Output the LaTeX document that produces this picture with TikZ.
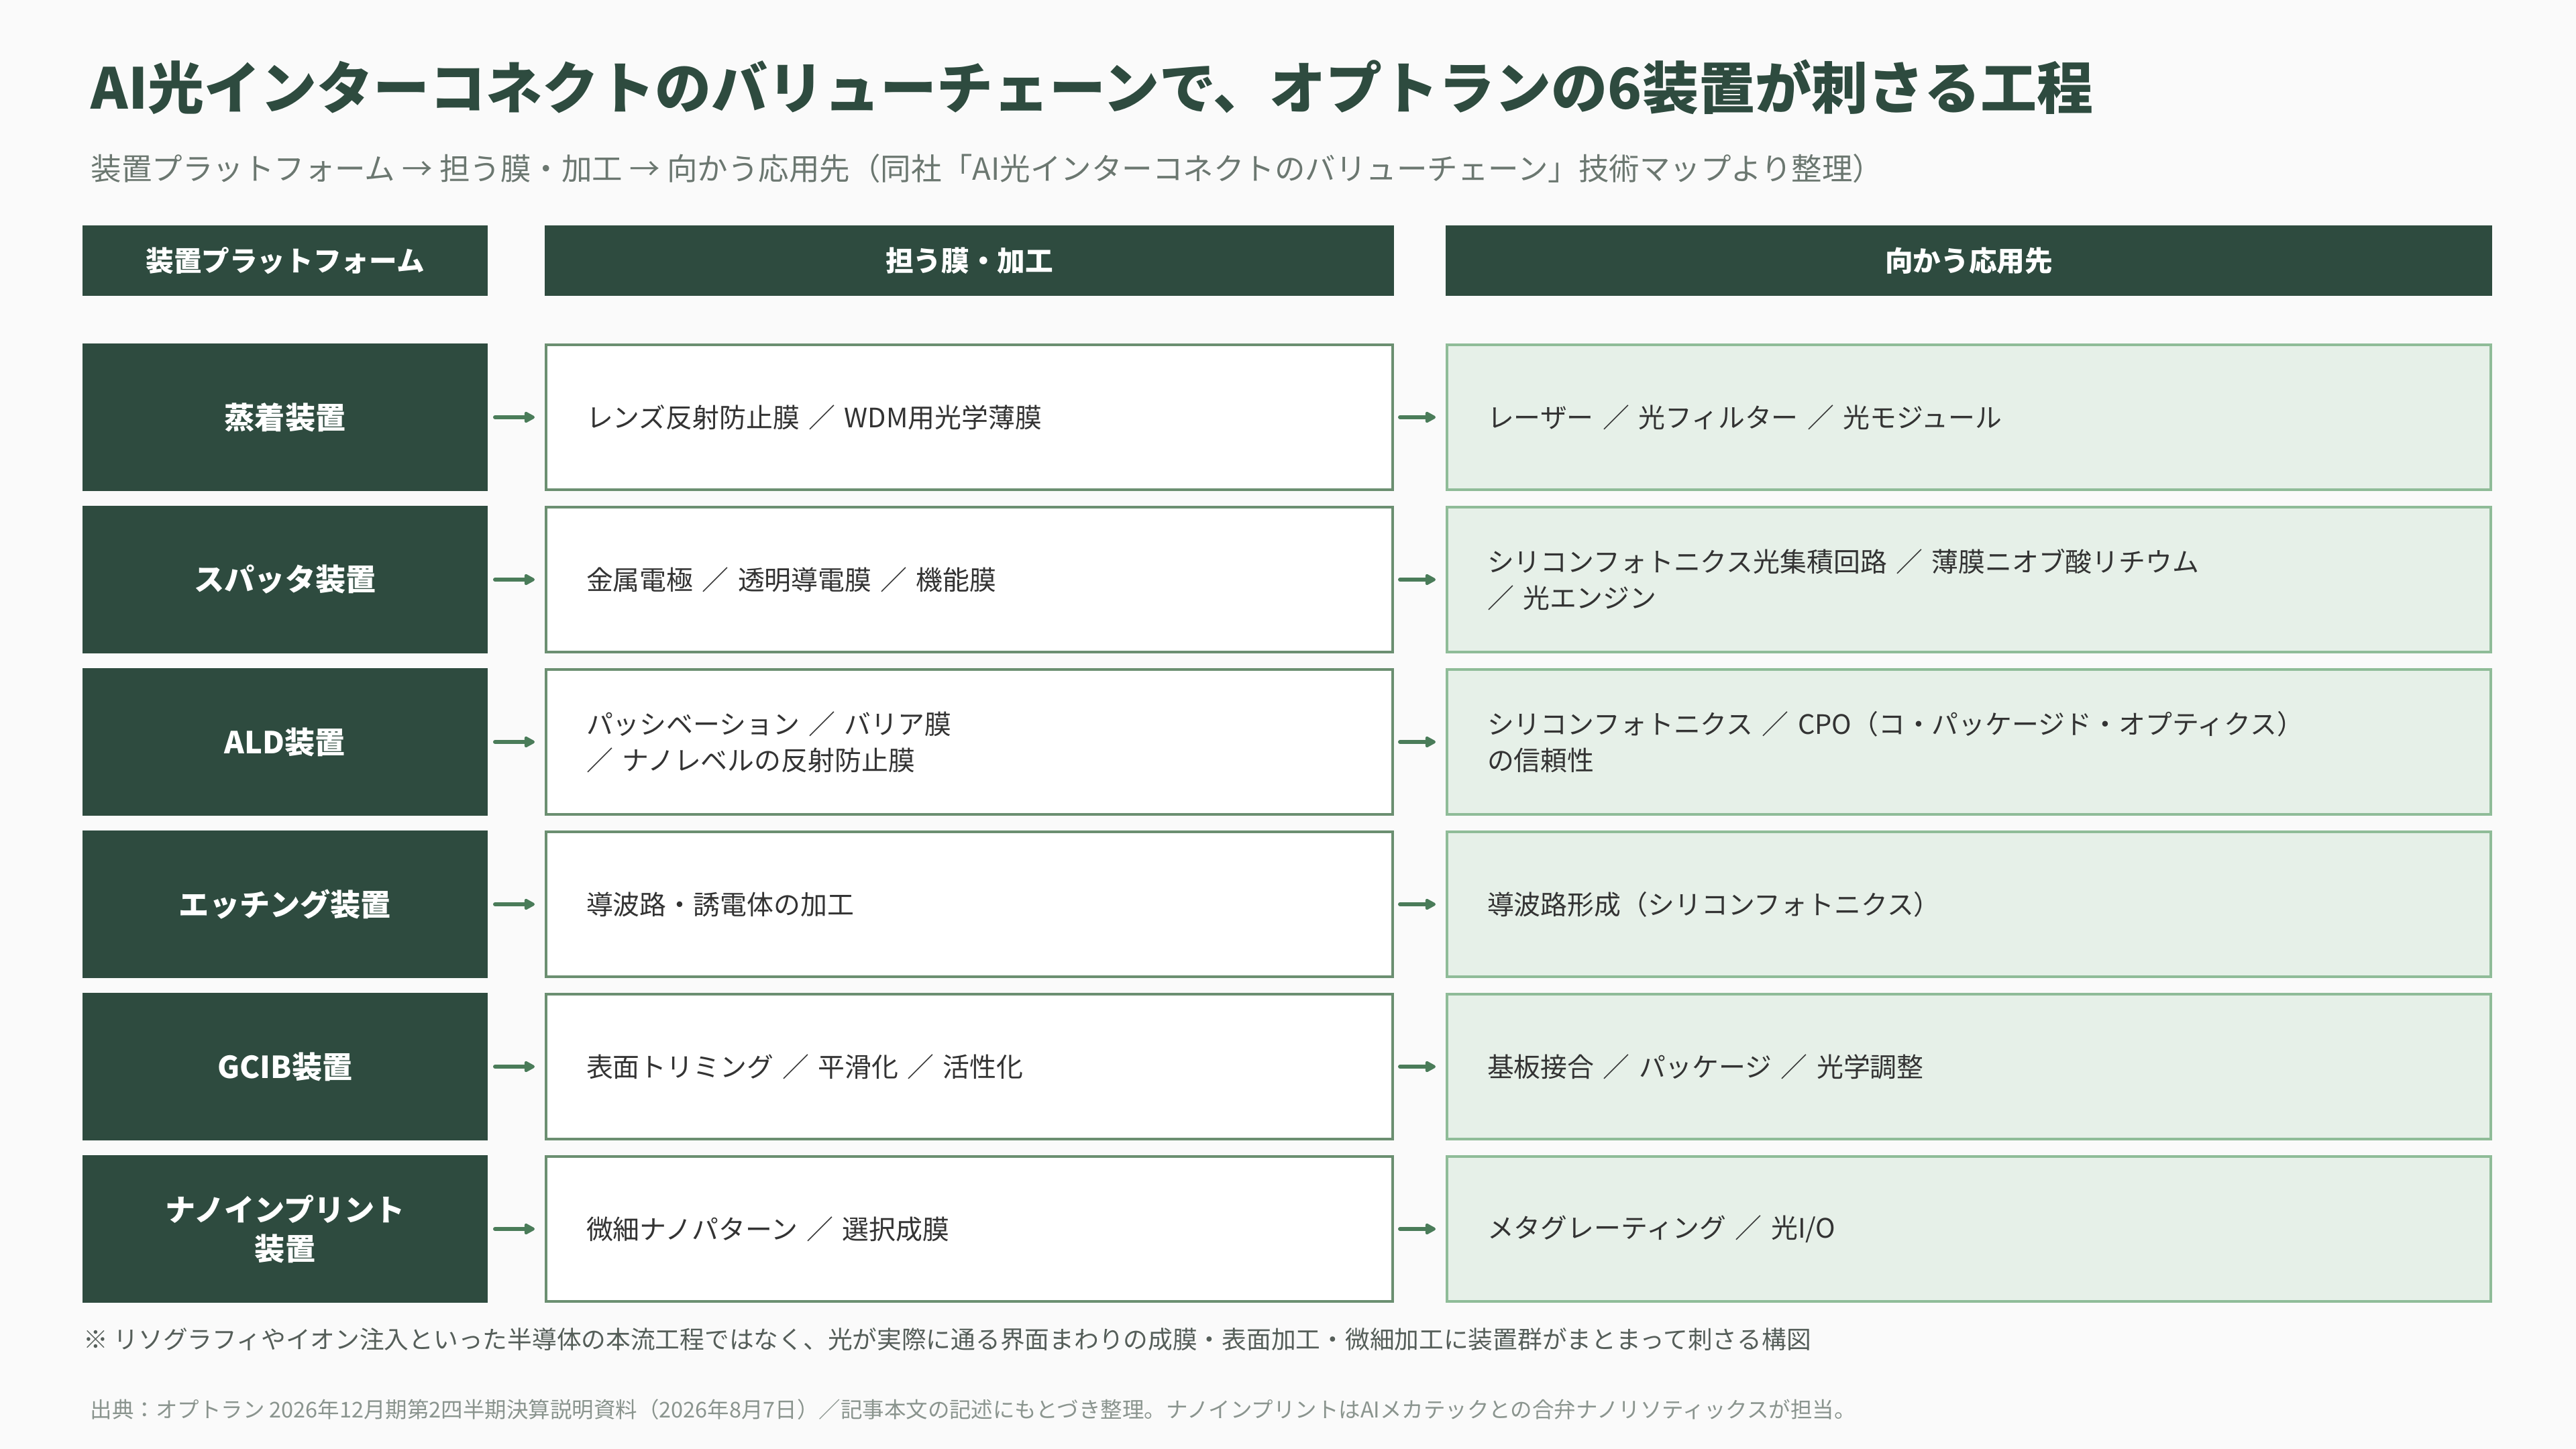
\documentclass[tikz,border=0pt]{standalone}
\usepackage{fontspec}
\setmainfont{Noto Sans CJK JP}
\usepackage{xcolor}
\usetikzlibrary{positioning,arrows.meta}

\definecolor{darkgreen}{HTML}{2E4B3F}
\definecolor{filmline}{HTML}{6B8F71}
\definecolor{appfill}{HTML}{E6F0E8}
\definecolor{appline}{HTML}{8FBC98}
\definecolor{flowgreen}{HTML}{4A7C59}
\definecolor{inkdark}{HTML}{333333}
\definecolor{subgray}{HTML}{6B7770}
\definecolor{notegray}{HTML}{555E59}
\definecolor{srcgray}{HTML}{8A948E}
\definecolor{pagebg}{HTML}{FAFAFA}

\begin{document}
\begin{tikzpicture}[
		headbox/.style={rectangle, fill=darkgreen, text=white, font=\bfseries\fontsize{11.85}{14}\selectfont, minimum height=1.05cm, inner sep=0pt, outer sep=0pt},
		platbox/.style={rectangle, fill=darkgreen, text=white, font=\bfseries\fontsize{12.85}{16.7}\selectfont, minimum width=6.04cm, minimum height=2.2cm, align=center, outer sep=0pt},
		filmbox/.style={rectangle, draw=filmline, line width=0.04cm, fill=white, text=inkdark, font=\fontsize{11.35}{15.4}\selectfont, text width=11.42cm, inner xsep=0.6cm, minimum height=2.16cm, align=left, outer sep=0pt},
		appbox/.style={rectangle, draw=appline, line width=0.04cm, fill=appfill, text=inkdark, font=\fontsize{11.35}{15.4}\selectfont, text width=14.36cm, inner xsep=0.6cm, minimum height=2.16cm, align=left, outer sep=0pt},
		flow/.style={-{Triangle[length=0.18cm, width=0.18cm, round]}, line width=0.06cm, draw=flowgreen, line cap=round, shorten <=0.11cm, shorten >=0.17cm}
	]
	\fill[pagebg] (0,0) rectangle (38.4,-21.6);
	\useasboundingbox (0,0) rectangle (38.4,-21.6);
	
	\node[anchor=base west, inner sep=0pt, text=darkgreen, font=\bfseries\fontsize{23.9}{28}\selectfont] (title) at (1.35,-1.63) {AI光インターコネクトのバリューチェーンで、オプトランの6装置が刺さる工程};
	\node[anchor=base west, inner sep=0pt, text=subgray, font=\fontsize{12.95}{16}\selectfont] (subtitle) at (1.35,-2.69) {装置プラットフォーム → 担う膜・加工 → 向かう応用先（同社「AI光インターコネクトのバリューチェーン」技術マップより整理）};
	
	% column heads
	\node[headbox, minimum width=6.04cm] (hplat) at (4.25,-3.885) {装置プラットフォーム};
	\node[headbox, minimum width=12.66cm, right=0.85cm of hplat] (hfilm) {担う膜・加工};
	\node[headbox, minimum width=15.6cm, right=0.77cm of hfilm] (happ) {向かう応用先};
	
	% rows
	\node[platbox] (dep) at (4.25,-6.22) {蒸着装置};
	\node[platbox, below=0.22cm of dep] (spt) {スパッタ装置};
	\node[platbox, below=0.22cm of spt] (ald) {ALD装置};
	\node[platbox, below=0.22cm of ald] (etch) {エッチング装置};
	\node[platbox, below=0.22cm of etch] (gcib) {GCIB装置};
	\node[platbox, below=0.22cm of gcib] (nil) {ナノインプリント\\装置};
	
	\node[filmbox, right=0.87cm of dep] (depfilm) {レンズ反射防止膜 ／ WDM用光学薄膜};
	\node[filmbox, right=0.87cm of spt] (sptfilm) {金属電極 ／ 透明導電膜 ／ 機能膜};
	\node[filmbox, right=0.87cm of ald] (aldfilm) {パッシベーション ／ バリア膜\\／ ナノレベルの反射防止膜};
	\node[filmbox, right=0.87cm of etch] (etchfilm) {導波路・誘電体の加工};
	\node[filmbox, right=0.87cm of gcib] (gcibfilm) {表面トリミング ／ 平滑化 ／ 活性化};
	\node[filmbox, right=0.87cm of nil] (nilfilm) {微細ナノパターン ／ 選択成膜};
	
	\node[appbox, right=0.81cm of depfilm] (depapp) {レーザー ／ 光フィルター ／ 光モジュール};
	\node[appbox, right=0.81cm of sptfilm] (sptapp) {シリコンフォトニクス光集積回路 ／ 薄膜ニオブ酸リチウム\\／ 光エンジン};
	\node[appbox, right=0.81cm of aldfilm] (aldapp) {シリコンフォトニクス ／ CPO（コ・パッケージド・オプティクス）\\の信頼性};
	\node[appbox, right=0.81cm of etchfilm] (etchapp) {導波路形成（シリコンフォトニクス）};
	\node[appbox, right=0.81cm of gcibfilm] (gcibapp) {基板接合 ／ パッケージ ／ 光学調整};
	\node[appbox, right=0.81cm of nilfilm] (nilapp) {メタグレーティング ／ 光I/O};
	
	\draw[flow] (dep) -- (depfilm);
	\draw[flow] (spt) -- (sptfilm);
	\draw[flow] (ald) -- (aldfilm);
	\draw[flow] (etch) -- (etchfilm);
	\draw[flow] (gcib) -- (gcibfilm);
	\draw[flow] (nil) -- (nilfilm);
	\draw[flow] (depfilm) -- (depapp);
	\draw[flow] (sptfilm) -- (sptapp);
	\draw[flow] (aldfilm) -- (aldapp);
	\draw[flow] (etchfilm) -- (etchapp);
	\draw[flow] (gcibfilm) -- (gcibapp);
	\draw[flow] (nilfilm) -- (nilapp);
	
	% notes
	\node[anchor=base west, inner sep=0pt, text=notegray, font=\fontsize{10.45}{13}\selectfont] (note) at (1.24,-20.1) {※ リソグラフィやイオン注入といった半導体の本流工程ではなく、光が実際に通る界面まわりの成膜・表面加工・微細加工に装置群がまとまって刺さる構図};
	\node[anchor=base west, inner sep=0pt, text=srcgray, font=\fontsize{9.24}{11}\selectfont] (source) at (1.34,-21.13) {出典：オプトラン 2026年12月期第2四半期決算説明資料（2026年8月7日）／記事本文の記述にもとづき整理。ナノインプリントはAIメカテックとの合弁ナノリソティックスが担当。};
\end{tikzpicture}
\end{document}
